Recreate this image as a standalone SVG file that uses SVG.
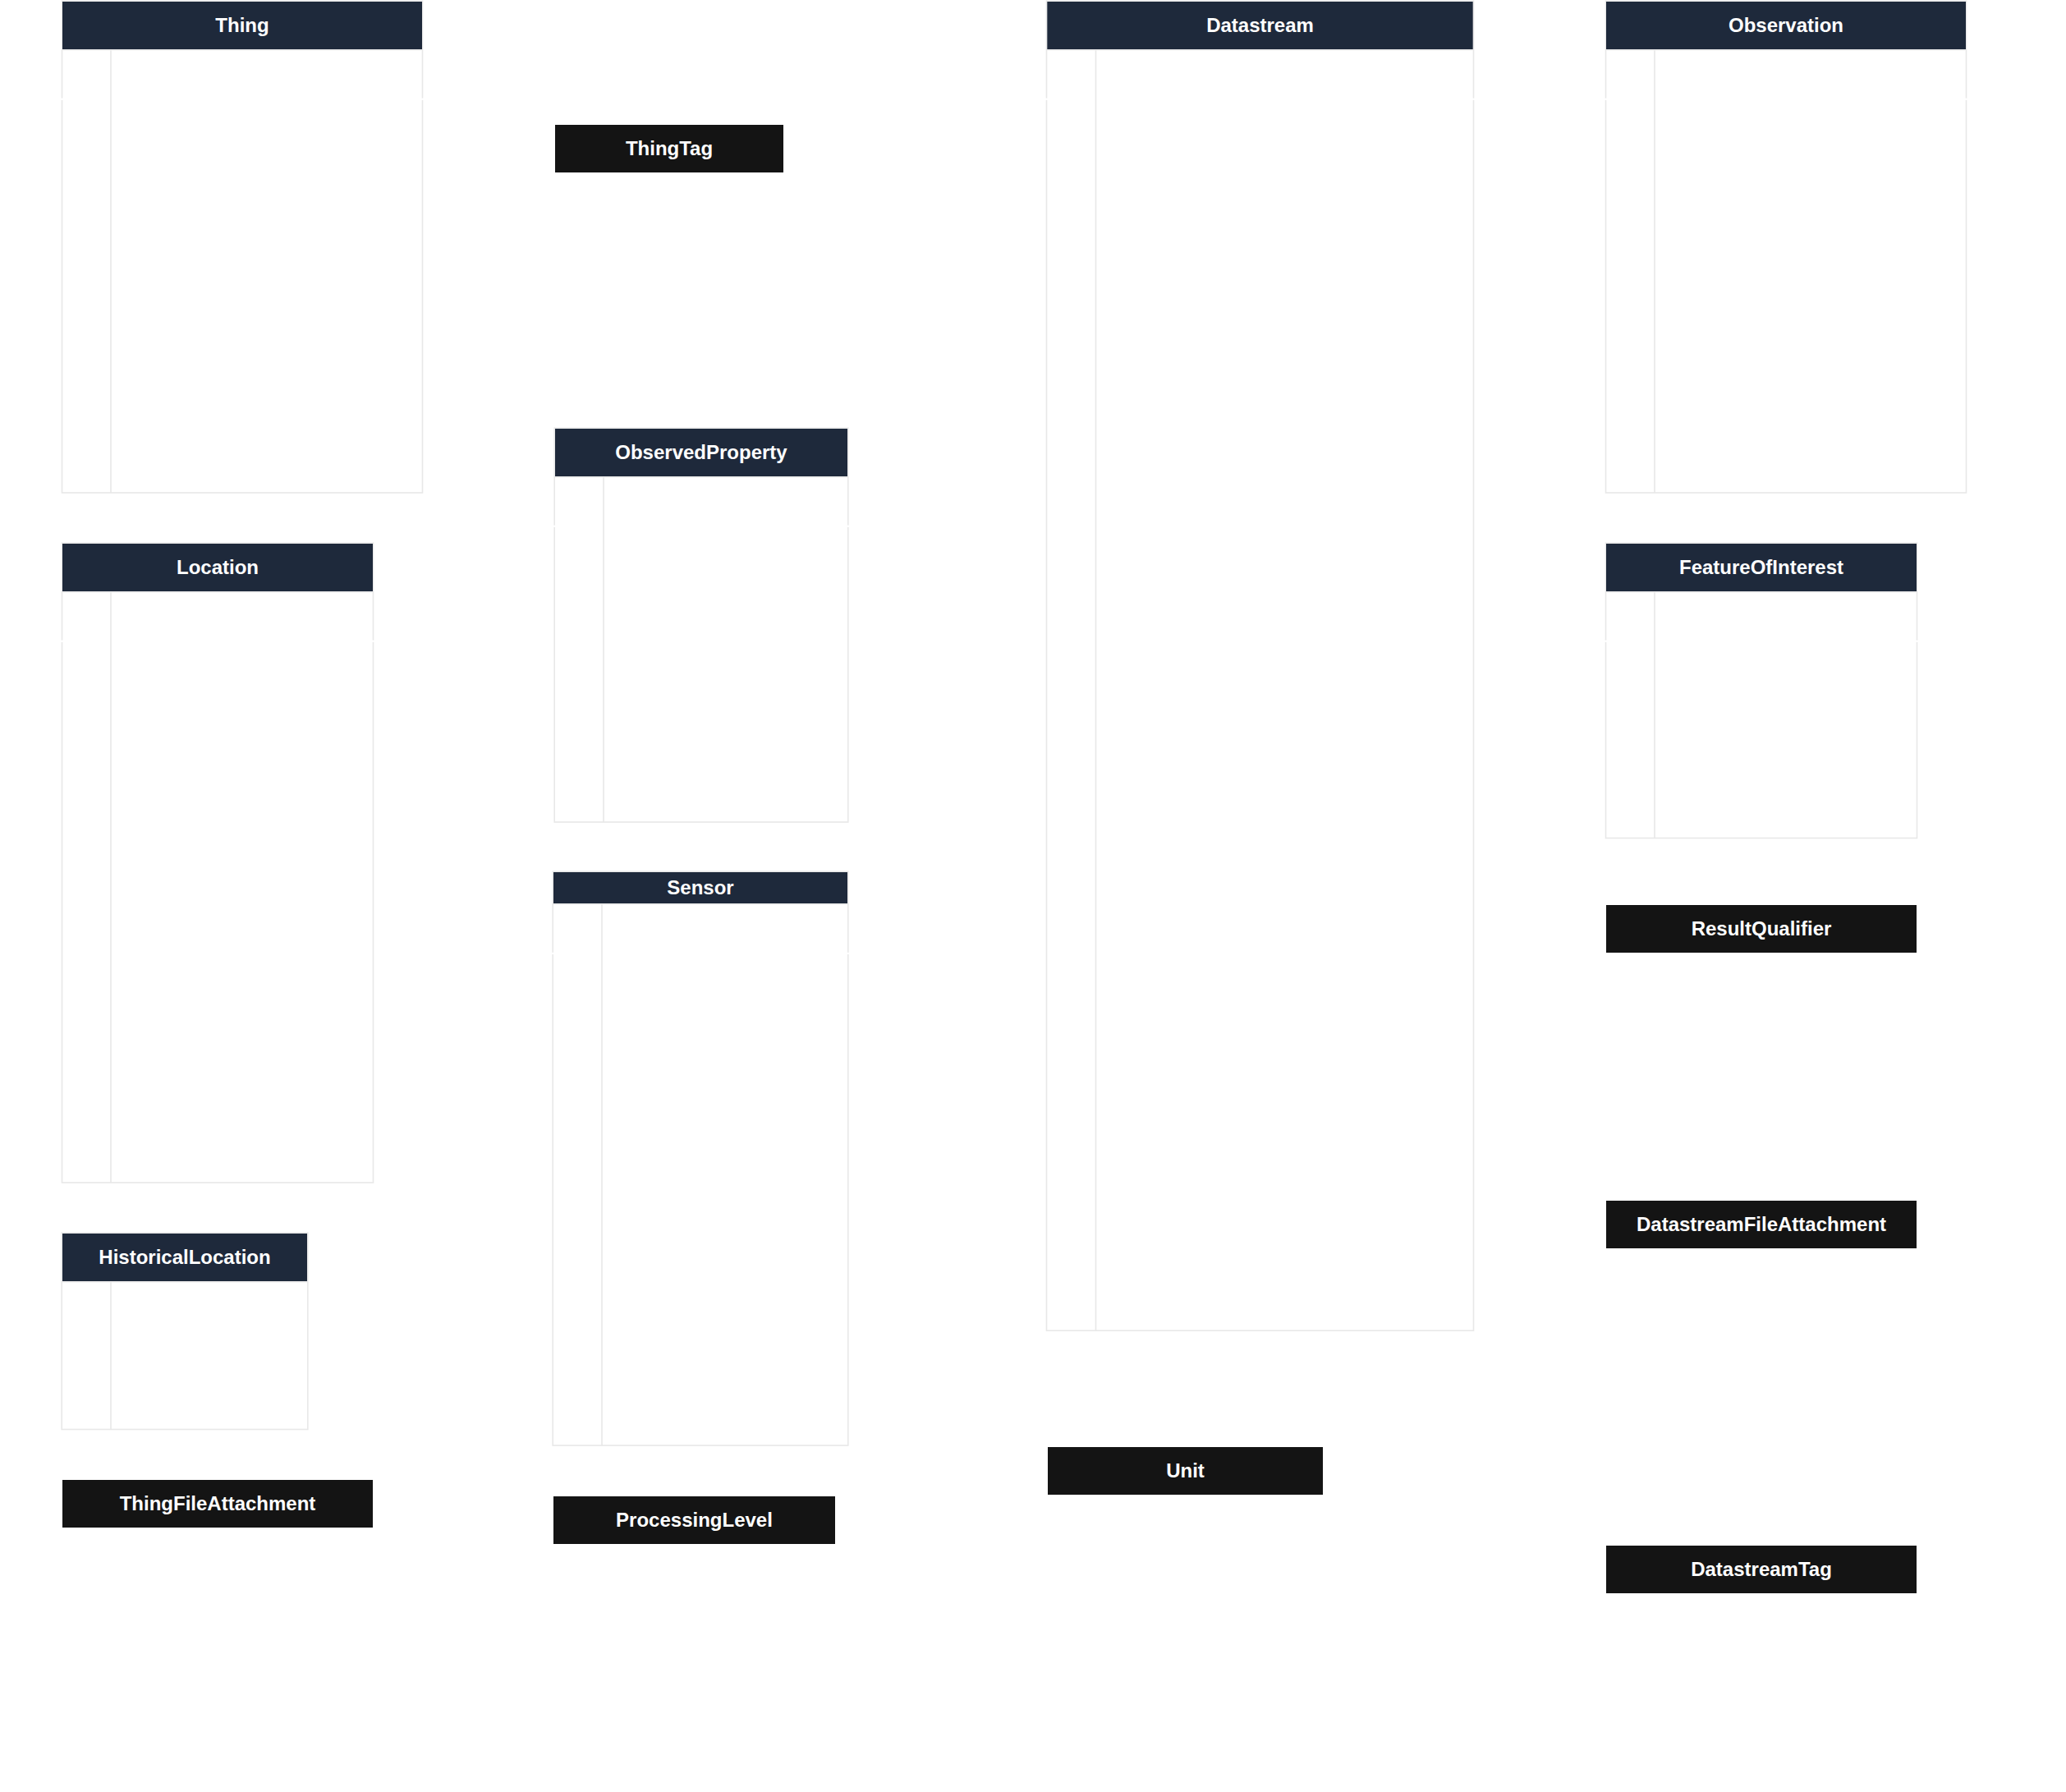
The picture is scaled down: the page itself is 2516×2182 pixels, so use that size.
<svg xmlns="http://www.w3.org/2000/svg" width="2516" height="2182" viewBox="0 0 2516 2182">
<style>
.frame{fill:#ffffff;stroke:#e8e8e8;stroke-width:1.6}
.line{stroke:#e8e8e8;stroke-width:1.6;fill:none}
.hdr{fill:#1e293b}
.blk{fill:#141414}
.gap{fill:#ffffff}
.t{font-family:"Liberation Sans",Arial,Helvetica,sans-serif;font-weight:bold;font-size:24px;fill:#ffffff;text-anchor:middle}
</style>
<rect x="0" y="0" width="2516" height="2182" fill="#ffffff"/>
<g id="connectors"></g>

<g id="Thing">
<rect class="frame" x="75.5" y="1.2" width="439" height="598.8"/>
<rect class="hdr" x="76" y="2" width="438" height="58"/>
<line class="line" x1="75.5" y1="60.8" x2="514.5" y2="60.8"/>
<line class="line" x1="135" y1="60.8" x2="135" y2="600"/>
<rect class="gap" x="74" y="119.6" width="3" height="2.2"/><rect class="gap" x="513" y="119.6" width="3" height="2.2"/>
<text class="t" x="295" y="38.6">Thing</text>
</g>

<g id="ThingTag">
<rect class="blk" x="676" y="152" width="278" height="58"/>
<text class="t" x="815" y="188.8">ThingTag</text>
</g>

<g id="Datastream">
<rect class="frame" x="1274.5" y="1.2" width="520" height="1619"/>
<rect class="hdr" x="1275.3" y="2" width="518.4" height="58"/>
<line class="line" x1="1274.5" y1="60.8" x2="1794.5" y2="60.8"/>
<line class="line" x1="1334.5" y1="60.8" x2="1334.5" y2="1620.2"/>
<rect class="gap" x="1273" y="119.6" width="3" height="2.2"/><rect class="gap" x="1793" y="119.6" width="3" height="2.2"/>
<text class="t" x="1534.5" y="38.6">Datastream</text>
</g>

<g id="Observation">
<rect class="frame" x="1955.5" y="1.2" width="439" height="598.8"/>
<rect class="hdr" x="1956" y="2" width="438" height="58"/>
<line class="line" x1="1955.5" y1="60.8" x2="2394.5" y2="60.8"/>
<line class="line" x1="2015" y1="60.8" x2="2015" y2="600"/>
<rect class="gap" x="1954" y="119.6" width="3" height="2.2"/><rect class="gap" x="2393" y="119.6" width="3" height="2.2"/>
<text class="t" x="2175" y="38.6">Observation</text>
</g>

<g id="Location">
<rect class="frame" x="75.5" y="661.2" width="379" height="778.8"/>
<rect class="hdr" x="76" y="662" width="378" height="58"/>
<line class="line" x1="75.5" y1="720.8" x2="454.5" y2="720.8"/>
<line class="line" x1="135" y1="720.8" x2="135" y2="1440"/>
<rect class="gap" x="74" y="779.6" width="3" height="2.2"/><rect class="gap" x="453" y="779.6" width="3" height="2.2"/>
<text class="t" x="265" y="698.6">Location</text>
</g>

<g id="ObservedProperty">
<rect class="frame" x="675.2" y="521.2" width="357.6" height="479.8"/>
<rect class="hdr" x="676" y="522" width="356" height="58"/>
<line class="line" x1="675.2" y1="580.8" x2="1032.8" y2="580.8"/>
<line class="line" x1="735" y1="580.8" x2="735" y2="1001"/>
<rect class="gap" x="673.7" y="639.6" width="3" height="2.2"/><rect class="gap" x="1031.3" y="639.6" width="3" height="2.2"/>
<text class="t" x="854" y="558.6">ObservedProperty</text>
</g>

<g id="FeatureOfInterest">
<rect class="frame" x="1955.5" y="661.2" width="379" height="359.3"/>
<rect class="hdr" x="1956" y="662" width="378" height="58"/>
<line class="line" x1="1955.5" y1="720.8" x2="2334.5" y2="720.8"/>
<line class="line" x1="2015" y1="720.8" x2="2015" y2="1020.5"/>
<rect class="gap" x="1954" y="779.6" width="3" height="2.2"/><rect class="gap" x="2333" y="779.6" width="3" height="2.2"/>
<text class="t" x="2145" y="698.6">FeatureOfInterest</text>
</g>

<g id="Sensor">
<rect class="frame" x="673.2" y="1061.2" width="359.6" height="698.8"/>
<rect class="hdr" x="674" y="1062" width="358" height="38"/>
<line class="line" x1="673.2" y1="1100.8" x2="1032.8" y2="1100.8"/>
<line class="line" x1="733" y1="1100.8" x2="733" y2="1760"/>
<rect class="gap" x="671.7" y="1159.8" width="3" height="2.2"/><rect class="gap" x="1031.3" y="1159.8" width="3" height="2.2"/>
<text class="t" x="853" y="1088.8">Sensor</text>
</g>

<g id="ResultQualifier">
<rect class="blk" x="1956" y="1102" width="378" height="58"/>
<text class="t" x="2145" y="1138.8">ResultQualifier</text>
</g>

<g id="HistoricalLocation">
<rect class="frame" x="75.2" y="1501.2" width="299.6" height="239.3"/>
<rect class="hdr" x="76" y="1502" width="298" height="58"/>
<line class="line" x1="75.2" y1="1560.8" x2="374.8" y2="1560.8"/>
<line class="line" x1="135" y1="1560.8" x2="135" y2="1740.5"/>
<text class="t" x="225" y="1538.6">HistoricalLocation</text>
</g>

<g id="DatastreamFileAttachment">
<rect class="blk" x="1956" y="1462" width="378" height="58"/>
<text class="t" x="2145" y="1498.8">DatastreamFileAttachment</text>
</g>

<g id="ThingFileAttachment">
<rect class="blk" x="76" y="1802" width="378" height="58"/>
<text class="t" x="265" y="1838.8">ThingFileAttachment</text>
</g>

<g id="ProcessingLevel">
<rect class="blk" x="674" y="1822" width="343" height="58"/>
<text class="t" x="845.5" y="1858.8">ProcessingLevel</text>
</g>

<g id="Unit">
<rect class="blk" x="1276" y="1762" width="335" height="58"/>
<text class="t" x="1443.5" y="1798.8">Unit</text>
</g>

<g id="DatastreamTag">
<rect class="blk" x="1956" y="1882" width="378" height="58"/>
<text class="t" x="2145" y="1918.8">DatastreamTag</text>
</g>
</svg>
